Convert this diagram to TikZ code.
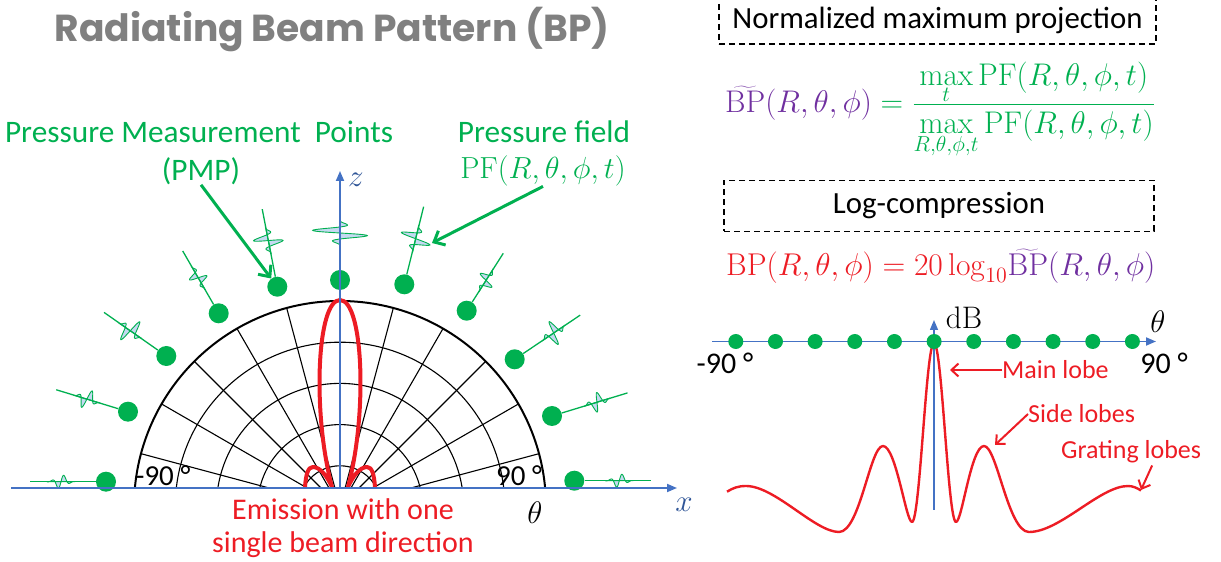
\documentclass[tikz,border=0pt]{standalone}
\usepackage[no-math]{fontspec}
\setmainfont{Carlito}
\newfontfamily\titlefont{Poppins}
\usetikzlibrary{arrows.meta}
\definecolor{gr}{RGB}{0,176,80}
\definecolor{pu}{RGB}{112,48,160}
\definecolor{rd}{RGB}{237,28,36}
\definecolor{axc}{RGB}{68,114,196}
\definecolor{axl}{RGB}{47,85,151}
\definecolor{wv}{RGB}{197,217,241}
\definecolor{tg}{RGB}{128,128,128}
\newcommand{\mathsc}[2]{\scalebox{#1}{\fontsize{20}{24}\selectfont$#2$}}
\begin{document}
\begin{tikzpicture}[x=1pt,y=1pt,
  ttl/.style={text=tg, font=\titlefont\bfseries\fontsize{37.6}{42}\selectfont, inner sep=0pt},
  glab/.style={text=gr, font=\fontsize{31.3}{35}\selectfont, inner sep=0pt},
  blab/.style={text=black, font=\fontsize{29}{34}\selectfont, inner sep=0pt},
  rlab/.style={text=rd, font=\fontsize{30}{33}\selectfont, inner sep=0pt, align=center},
  rann/.style={text=rd, font=\fontsize{26}{30}\selectfont, inner sep=0pt},
  mth/.style={inner sep=0pt},
  dbox/.style={draw=black, line width=1.8pt, dash pattern=on 6pt off 4pt, font=\fontsize{30.8}{34}\selectfont, inner sep=0pt},
  gdot/.style={circle, fill=gr, minimum size=20pt, inner sep=0pt},
  rdot/.style={circle, fill=gr, minimum size=15pt, inner sep=0pt},
  gridl/.style={draw=black, line width=1.1pt},
  axis/.style={draw=axc, line width=1.8pt, -{Triangle[length=10pt,width=8pt]}},
  lobe/.style={draw=rd, line width=4pt, line join=round, line cap=round},
  stem/.style={draw=gr, line width=1.3pt},
  wave/.style={fill=wv, draw=gr, line width=0.9pt},
  garrow/.style={draw=gr, line width=3pt, -{Straight Barb[length=9pt,width=16pt]}},
  rarrow/.style={draw=rd, line width=2pt, -{Straight Barb[length=7pt,width=13pt]}}
]
\useasboundingbox (0,0) rectangle (1221,562);

% ---------------- Left panel ----------------
\node[ttl] (title) at (332,532) {Radiating Beam Pattern (BP)};

\coordinate (C) at (340,55);
\begin{scope}
  \clip (100,74) rectangle (600,300);
  \foreach \r in {41.2,82.4,123.6,164.8} \draw[gridl] (C) circle[radius=\r];
  \draw[gridl, line width=2pt] (C) circle[radius=206];
  \foreach \a in {15,30,...,165} \draw[gridl] (C) -- ++(\a:206);
\end{scope}

% sensors
\foreach \i/\px/\py/\ang/\len/\amp/\so in {
  1/106/80.3/180/76/7.5/45,
  2/128/150.3/163/75/11/43,
  3/166.3/206/145/76/15/44,
  4/218.7/248.7/120/72/10/41,
  5/277.3/275.3/101/79/17/47,
  6/340/282/90/80/32/47,
  7/404.3/277.7/76/80/18/47,
  8/466.7/251.3/57.5/68/10/36,
  9/514.7/202.7/34/79/14/47,
  10/552/146/17/79/11/47,
  11/574.3/81.3/0/77/7.5/45}{
  \begin{scope}[shift={(\px,\py)}, rotate=\ang]
    \coordinate (e\i) at (\len,0);
    \filldraw[wave] plot[domain=\so-14:\so+14, samples=70, smooth] (\x,{\amp*exp(-((\x-\so)/7)^2)*sin(30*(\x-\so))}) -- cycle;
  \end{scope}
  \node[gdot] (p\i) at (\px,\py) {};
  \draw[stem] (p\i) -- (e\i);
}

% red beam
\draw[lobe] (305,75) .. controls (306,88) and (308,95) .. (313,95)
  .. controls (320,95) and (327,86) .. (332,75)
  .. controls (312,150) and (317,262) .. (340,262)
  .. controls (363,262) and (368,150) .. (348,75)
  .. controls (353,86) and (360,95) .. (367,95)
  .. controls (372,95) and (374,88) .. (375,75);

% axes
\coordinate (xs) at (11,74);
\coordinate (xe) at (677,74);
\coordinate (zs) at (340,74);
\coordinate (ze) at (340,391);
\draw[axis] (xs) -- (xe);
\draw[axis] (zs) -- (ze);
\node[text=axl, inner sep=0pt] (xlab) at (684,57) {\mathsc{1.5}{x}};
\node[text=axl, inner sep=0pt] (zlab) at (356,382) {\mathsc{1.5}{z}};
\node[inner sep=0pt] (thlab) at (535,49) {\mathsc{1.5}{\theta}};
\node[blab] (m90) at (163,86) {-90 °};
\node[blab] (p90) at (519,86) {90 °};

% labels
\node[glab] (pmpl) at (199,430) {Pressure Measurement~ Points};
\node[glab] (pmp) at (201,391) {(PMP)};
\node[glab] (pfl) at (544,430) {Pressure field};
\node[glab] (pf) at (543,391) {\mathsc{1.47}{\mathrm{PF}(R,\theta,\phi,t)}};
\coordinate (w7) at (432,319);
\draw[garrow] (pmp.south) -- (p5);
\draw[garrow] (pf.south) -- (w7);

\node[rlab] (emi) at (343,34) {Emission with one\\single beam direction};

% ---------------- Right panel ----------------
\node[dbox, minimum width=437pt, minimum height=48pt] (nmp) at (937.5,542) {Normalized maximum projection};
\node[mth, anchor=base west] (f1) at (725,449.5) {\mathsc{1.51}{\displaystyle
  \textcolor{pu}{\widetilde{\mathrm{BP}}(R,\theta,\phi)}
  \textcolor{gr}{{}=\frac{\max\limits_{t}\mathrm{PF}(R,\theta,\phi,t)}{\max\limits_{R,\theta,\phi,t}\mathrm{PF}(R,\theta,\phi,t)}}}};
\node[dbox, minimum width=430pt, minimum height=51pt] (lc) at (939,356) {Log-compression};
\node[mth, anchor=base west] (f2) at (726,286.5) {\mathsc{1.52}{\textcolor{rd}{\mathrm{BP}(R,\theta,\phi)=20\log_{10}}
  \textcolor{pu}{\widetilde{\mathrm{BP}}(R,\theta,\phi)}}};

\coordinate (ts) at (712,220.5);
\coordinate (te) at (1156,220.5);
\coordinate (ds) at (934,52);
\coordinate (de) at (934,242);
\draw[axis] (ts) -- (te);
\draw[draw=rd, line width=2.4pt, line join=round]
  (727,70.3) .. controls (733,74) and (738,76) .. (746,76)
  .. controls (775,76) and (815,30) .. (839,30)
  .. controls (860,30) and (870,116) .. (883,116)
  .. controls (896,116) and (906,40) .. (912,40)
  .. controls (920,40) and (926,219) .. (934,219)
  .. controls (942,219) and (948,40) .. (956,40)
  .. controls (962,40) and (971,116) .. (984,116)
  .. controls (997,116) and (1008,30) .. (1029,30)
  .. controls (1060,30) and (1100,76) .. (1128,76)
  .. controls (1133,76) and (1137,74) .. (1141,71.5);
\draw[axis, line width=1.5pt] (ds) -- (de);
\foreach \k in {0,...,10} \node[rdot] (q\k) at ({735.8+39.66*\k},220.5) {};

\node[inner sep=0pt] (dB) at (964,244) {\mathsc{1.5}{\mathrm{dB}}};
\node[inner sep=0pt] (th2) at (1158,240) {\mathsc{1.5}{\theta}};
\node[blab, font=\fontsize{30}{34}\selectfont] (m90r) at (725,199) {-90 °};
\node[blab, font=\fontsize{30}{34}\selectfont] (p90r) at (1164,199) {90 °};

\node[rann, anchor=west] (ml) at (1002,192) {Main lobe};
\coordinate (mlt) at (950,192);
\draw[rarrow] (ml.west) -- (mlt);
\node[rann, anchor=west] (sl) at (1028,148) {Side lobes};
\coordinate (slt) at (995,117);
\draw[rarrow] (sl.west) -- (slt);
\node[rann, anchor=west] (gl) at (1061,110) {Grating lobes};
\coordinate (glt) at (1141,72);
\draw[rarrow] ([xshift=21pt,yshift=-2pt]gl.south) -- (glt);
\end{tikzpicture}
\end{document}
